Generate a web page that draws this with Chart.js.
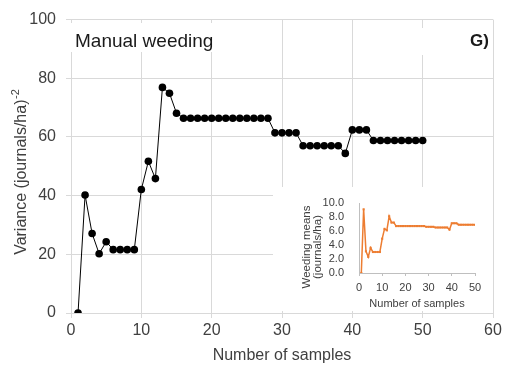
<!DOCTYPE html>
<html>
<head>
<meta charset="utf-8">
<script src="https://cdn.jsdelivr.net/npm/chart.js@4"></script>
<style>
  html, body { margin: 0; padding: 0; background: #fff; }
  #wrap { position: relative; width: 506px; height: 367px; }
  #mainChart { position: absolute; left: 0; top: 0; }
  #insetChart { position: absolute; left: 273px; top: 187px; background: #fff; }
</style>
</head>
<body>
<div id="wrap">
  <canvas id="mainChart" width="506" height="367"></canvas>
  <canvas id="insetChart" width="220" height="124"></canvas>
</div>
<script>
/*****
data
******/
const samples = [
   1,  2,  3,  4,  5,  6,  7,  8,  9, 10,
  11, 12, 13, 14, 15, 16, 17, 18, 19, 20,
  21, 22, 23, 24, 25, 26, 27, 28, 29, 30,
  31, 32, 33, 34, 35, 36, 37, 38, 39, 40,
  41, 42, 43, 44, 45, 46, 47, 48, 49, 50
];
// variance, (journals/ha)^-2
const variance = [
   0.0, 40.2, 27.1, 20.2, 24.3, 21.6, 21.6, 21.6, 21.6, 42.1,
  51.7, 45.8, 76.9, 74.9, 68.1, 66.4, 66.4, 66.4, 66.4, 66.4,
  66.4, 66.4, 66.4, 66.4, 66.4, 66.4, 66.4, 66.4, 61.4, 61.4,
  61.4, 61.4, 57.0, 57.0, 57.0, 57.0, 57.0, 57.0, 54.4, 62.4,
  62.4, 62.4, 58.8, 58.8, 58.8, 58.8, 58.8, 58.8, 58.8, 58.8
];
// weeding means, journals/ha
const means = [
  0.0, 9.1, 3.1, 2.3, 3.6, 3.0, 3.0, 3.0, 3.0, 4.9,
  6.3, 6.1, 8.1, 7.2, 7.2, 6.7, 6.7, 6.7, 6.7, 6.7,
  6.7, 6.7, 6.7, 6.7, 6.7, 6.7, 6.7, 6.7, 6.6, 6.6,
  6.6, 6.6, 6.5, 6.5, 6.5, 6.5, 6.5, 6.5, 6.2, 7.1,
  7.1, 7.1, 6.9, 6.9, 6.9, 6.9, 6.9, 6.9, 6.9, 6.9
];
const mainXTicks  = [0, 10, 20, 30, 40, 50, 60];
const mainYTicks  = [0, 20, 40, 60, 80, 100];
const insetXTicks = [0, 10, 20, 30, 40, 50];
const insetYTicks = [0, 2, 4, 6, 8, 10];

const panelTitle  = 'Manual weeding';
const panelTag    = 'G)';
const insetYTitle = ['Weeding means', '(journals/ha)'];

/*****
setting
******/
const fontFamily = "'Liberation Sans', Arial, sans-serif";
Chart.defaults.font.family = fontFamily;
Chart.defaults.color = '#404040';

const gridColor = '#d9d9d9';
const toPoints  = (xs, ys) => xs.map((x, i) => ({ x: x, y: ys[i] }));
const fixTicks  = (list) => (scale) => { scale.ticks = list.map(v => ({ value: v })); };

/* y title with superscript exponent */
const yTitlePlugin = {
  id: 'yTitle',
  afterDraw(chart) {
    const ctx  = chart.ctx;
    const main = 'Variance (journals/ha)';
    const sup  = '-2';
    ctx.save();
    ctx.font = `16px ${fontFamily}`;
    const wMain = ctx.measureText(main).width;
    ctx.font = `11px ${fontFamily}`;
    const wSup = ctx.measureText(sup).width;
    const cy = (chart.chartArea.top + chart.chartArea.bottom) / 2 + 6;
    ctx.translate(22, cy);
    ctx.rotate(-Math.PI / 2);
    ctx.fillStyle = '#404040';
    ctx.textBaseline = 'middle';
    ctx.textAlign = 'left';
    const start = -(wMain + wSup) / 2;
    ctx.font = `16px ${fontFamily}`;
    ctx.fillText(main, start, 0);
    ctx.font = `11px ${fontFamily}`;
    ctx.fillText(sup, start + wMain + 0.5, -6);
    ctx.restore();
  }
};

/* panel labels sit on white boxes over the grid */
const panelLabelPlugin = {
  id: 'panelLabel',
  beforeDatasetsDraw(chart) {
    const ctx = chart.ctx;
    ctx.save();
    ctx.fillStyle = '#fff';
    ctx.fillRect(69, 23, 182, 29);
    ctx.fillRect(418, 28, 73, 27);
    ctx.fillStyle = '#1a1a1a';
    ctx.textBaseline = 'alphabetic';
    ctx.font = `19px ${fontFamily}`;
    ctx.textAlign = 'left';
    ctx.fillText(panelTitle, 75, 47);
    ctx.font = `bold 17px ${fontFamily}`;
    ctx.textAlign = 'right';
    ctx.fillText(panelTag, 489, 46);
    ctx.restore();
  }
};

/* two-line rotated title for the inset y axis */
const insetTitlePlugin = {
  id: 'insetTitle',
  afterDraw(chart) {
    const ctx = chart.ctx;
    ctx.save();
    ctx.translate(34, 60);
    ctx.rotate(-Math.PI / 2);
    ctx.fillStyle = '#404040';
    ctx.font = `11.5px ${fontFamily}`;
    ctx.textAlign = 'center';
    ctx.textBaseline = 'middle';
    insetYTitle.forEach((line, i) => ctx.fillText(line, 0, i * 11));
    ctx.restore();
  }
};

/*****
main chart
******/
const mainChart = new Chart(document.querySelector('#mainChart').getContext('2d'), {
  type: 'line',
  data: {
    datasets: [{
      data: toPoints(samples, variance),
      borderColor: '#000',
      backgroundColor: '#000',
      borderWidth: 1,
      pointRadius: 3.8,
      pointBackgroundColor: '#000',
      pointBorderWidth: 0,
      tension: 0
    }]
  },
  options: {
    responsive: false,
    animation: false,
    layout: { padding: { top: 17, right: 13, left: 0, bottom: 0 } },
    plugins: { legend: { display: false }, tooltip: { enabled: false } },
    scales: {
      x: {
        type: 'linear',
        min: 0, max: 60,
        afterBuildTicks: fixTicks(mainXTicks),
        afterFit: (scale) => { scale.height = 54; },
        grid: { color: gridColor, tickLength: 5 },
        border: { color: gridColor },
        ticks: { font: { size: 16 }, padding: 3, maxRotation: 0, autoSkip: false },
        title: {
          display: true,
          text: 'Number of samples',
          font: { size: 16 },
          color: '#404040',
          padding: { top: 0, bottom: 2 }
        }
      },
      y: {
        min: 0, max: 100,
        afterBuildTicks: fixTicks(mainYTicks),
        afterFit: (scale) => { scale.width = 71; },
        grid: { color: gridColor, tickLength: 5 },
        border: { color: gridColor },
        ticks: { font: { size: 16 }, padding: 10, autoSkip: false }
      }
    }
  },
  plugins: [yTitlePlugin, panelLabelPlugin]
});

/*****
inset chart
******/
const insetChart = new Chart(document.querySelector('#insetChart').getContext('2d'), {
  type: 'line',
  data: {
    datasets: [{
      data: toPoints(samples, means),
      borderColor: '#ed7d31',
      backgroundColor: '#ed7d31',
      borderWidth: 1.5,
      pointStyle: 'rect',
      pointRadius: 1.5,
      pointBorderWidth: 0,
      pointBackgroundColor: '#ed7d31',
      tension: 0
    }]
  },
  options: {
    responsive: false,
    animation: false,
    layout: { padding: { top: 16, right: 18, left: 0, bottom: 0 } },
    plugins: { legend: { display: false }, tooltip: { enabled: false } },
    scales: {
      x: {
        type: 'linear',
        min: 0, max: 50,
        afterBuildTicks: fixTicks(insetXTicks),
        afterFit: (scale) => { scale.height = 38; },
        grid: { display: true, drawOnChartArea: false, color: '#bfbfbf', tickLength: 3 },
        border: { color: '#bfbfbf' },
        ticks: { font: { size: 11 }, padding: 5, maxRotation: 0, autoSkip: false },
        title: {
          display: true,
          text: 'Number of samples',
          font: { size: 11 },
          color: '#404040',
          padding: { top: 0, bottom: 0 }
        }
      },
      y: {
        min: 0, max: 10,
        afterBuildTicks: fixTicks(insetYTicks),
        afterFit: (scale) => { scale.width = 86; },
        grid: { display: false },
        border: { color: '#bfbfbf' },
        ticks: {
          font: { size: 11 },
          padding: 7,
          autoSkip: false,
          callback: (v) => Number(v).toFixed(1)
        }
      }
    }
  },
  plugins: [insetTitlePlugin]
});
</script>
</body>
</html>
